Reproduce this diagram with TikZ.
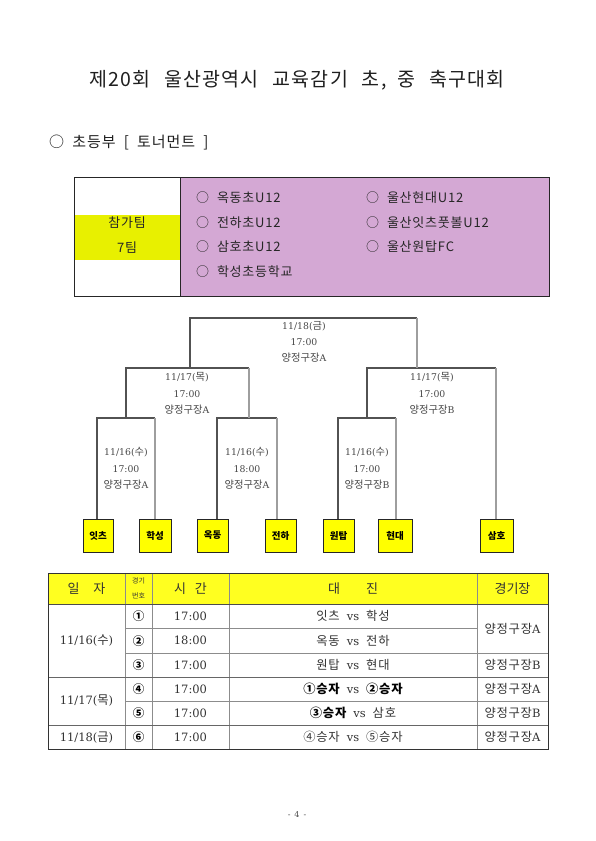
\documentclass[tikz,border=0pt]{standalone}
\usepackage{fontspec}
\setmainfont{DejaVu Serif}
\newfontfamily\kr{Noto Sans CJK KR}
\newfontfamily\krw{Noto Sans CJK KR}[LetterSpace=6]
\definecolor{purp}{HTML}{D4A8D4}
\definecolor{ylw}{HTML}{E8F000}
\definecolor{hdr}{HTML}{FFFF20}
\definecolor{tbox}{HTML}{FFFF00}
\begin{document}
\begin{tikzpicture}[x=1pt,y=-1pt,
  dk/.style={draw=black!68, line width=1.3pt},
  gr/.style={draw=black!38, line width=1.3pt},
  lbl/.style={text=black!72, font=\fontsize{9.3}{16.3}\selectfont, align=center, inner sep=0},
  team/.style={draw=black!85, fill=tbox, line width=0.8pt, minimum height=33pt, inner sep=0,
     font=\kr\bfseries\fontsize{9.5}{10}\selectfont},
  item/.style={anchor=west, inner sep=0, font=\krw\fontsize{13}{15}\selectfont, text=black!85},
  tin/.style={draw=black!45, line width=0.5pt},
  tcell/.style={text=black!80, font=\fontsize{11.5}{13}\selectfont, inner sep=0},
  thead/.style={text=black!80, font=\kr\fontsize{13}{15}\selectfont, inner sep=0}
]
\useasboundingbox (0,0) rectangle (595,841);
\fill[white] (0,0) rectangle (595,841);

% title
\node[inner sep=0, font=\krw\fontsize{19.5}{22}\selectfont, text=black!88] (title) at (297,80)
  {제20회\hspace{14pt}울산광역시\hspace{14pt}교육감기\hspace{14pt}초,\hspace{11pt}중\hspace{14pt}축구대회};
\node[anchor=west, inner sep=0, font=\krw\fontsize{15}{17}\selectfont, text=black!88] (sect) at (49,143)
  {○\hspace{0.55em}초등부\hspace{0.55em}[\hspace{0.55em}토너먼트\hspace{0.55em}]};

% participants box
\fill[purp] (180,177) rectangle (549,296);
\fill[ylw] (75,215) rectangle (180,260);
\draw[black!85, line width=1pt] (74,177) rectangle (549,296);
\draw[black!85, line width=0.8pt] (180,177) -- (180,296);
\node[inner sep=0, font=\krw\fontsize{13}{15}\selectfont, text=black!85] (pt1) at (127,223) {참가팀};
\node[inner sep=0, font=\krw\fontsize{13}{15}\selectfont, text=black!85] (pt2) at (127,248) {7팀};
\node[item] (i1) at (196,198) {○\hspace{0.6em}옥동초U12};
\node[item] (i2) at (196,223) {○\hspace{0.6em}전하초U12};
\node[item] (i3) at (196,247) {○\hspace{0.6em}삼호초U12};
\node[item] (i4) at (196,272) {○\hspace{0.6em}학성초등학교};
\node[item] (i5) at (366,198) {○\hspace{0.6em}울산현대U12};
\node[item] (i6) at (366,223) {○\hspace{0.6em}울산잇츠풋볼U12};
\node[item] (i7) at (366,247) {○\hspace{0.6em}울산원탑FC};

% team boxes
\node[team, minimum width=30pt] (t1) at (98,535.5) {잇츠};
\node[team, minimum width=32pt] (t2) at (155,535.5) {학성};
\node[team, minimum width=31pt] (t3) at (212.5,535.5) {옥동};
\node[team, minimum width=31pt] (t4) at (280.5,535.5) {전하};
\node[team, minimum width=31pt] (t5) at (338.5,535.5) {원탑};
\node[team, minimum width=34pt] (t6) at (395,535.5) {현대};
\node[team, minimum width=33pt] (t7) at (496.5,535.5) {삼호};

% bracket coordinates
\coordinate (m1l) at (97,418);  \coordinate (m1r) at (155,418);
\coordinate (m2l) at (217,418); \coordinate (m2r) at (277,418);
\coordinate (m3l) at (338,418); \coordinate (m3r) at (396,418);
\coordinate (m4l) at (126,368); \coordinate (m4r) at (249,368);
\coordinate (m5l) at (367,368); \coordinate (m5r) at (496,368);
\coordinate (m6l) at (190,318); \coordinate (m6r) at (417,318);

% round 1
\draw[dk] (t1.north -| m1l) -- (m1l) -- (m1r);
\draw[gr] (m1r) -- (t2.north -| m1r);
\draw[dk] (t3.north -| m2l) -- (m2l) -- (m2r);
\draw[gr] (m2r) -- (t4.north -| m2r);
\draw[dk] (t5.north -| m3l) -- (m3l) -- (m3r);
\draw[gr] (m3r) -- (t6.north -| m3r);
% round 2
\draw[dk] (m4l |- m1l) -- (m4l) -- (m4r);
\draw[gr] (m4r) -- (m4r |- m2r);
\draw[dk] (m5l |- m3l) -- (m5l) -- (m5r);
\draw[gr] (m5r) -- (t7.north -| m5r);
% final
\draw[dk] (m6l |- m4l) -- (m6l) -- (m6r);
\draw[gr] (m6r) -- (m6r |- m5r);

% bracket labels
\newcommand\kl{\kr\fontsize{10.3}{12}\selectfont}
\node[lbl] (L6) at (304,342) {11/18({\kl 금})\\17:00\\{\kl 양정구장}A};
\node[lbl] (L4) at (187,393.5) {11/17({\kl 목})\\17:00\\{\kl 양정구장}A};
\node[lbl] (L5) at (432,393.5) {11/17({\kl 목})\\17:00\\{\kl 양정구장}B};
\node[lbl] (L1) at (126,468.5) {11/16({\kl 수})\\17:00\\{\kl 양정구장}A};
\node[lbl] (L2) at (247,468.5) {11/16({\kl 수})\\18:00\\{\kl 양정구장}A};
\node[lbl] (L3) at (367,468.5) {11/16({\kl 수})\\17:00\\{\kl 양정구장}B};

% table
\fill[hdr] (48,573) rectangle (548,604);
\draw[tin] (125,573) -- (125,749.5);
\draw[tin] (152,573) -- (152,749.5);
\draw[tin] (229,573) -- (229,749.5);
\draw[tin] (477,573) -- (477,749.5);
\draw[black!70, line width=0.8pt] (48,604) -- (548,604);
\draw[tin] (125,628.5) -- (477,628.5);
\draw[tin] (125,653) -- (548,653);
\draw[black!60, line width=0.8pt] (48,677) -- (548,677);
\draw[tin] (125,701) -- (548,701);
\draw[black!60, line width=0.8pt] (48,725) -- (548,725);
\draw[black!80, line width=1pt] (48,573) rectangle (548,749.5);

\node[thead] (h1) at (86.5,588.5) {일\hspace{14pt}자};
\node[thead, font=\kr\fontsize{7}{15.5}\selectfont, align=center] (h2) at (138.5,588.5) {경기\\번호};
\node[thead] (h3) at (190.5,588.5) {시\hspace{9pt}간};
\node[thead] (h4) at (353,588.5) {대\hspace{26pt}진};
\node[thead] (h5) at (512.5,588.5) {경기장};

\newcommand\kt{\krw\fontsize{12.3}{14}\selectfont}
\newcommand\ktb{\krw\bfseries\fontsize{12.3}{14}\selectfont\color{black}}
\node[tcell] (d1) at (86.5,640.75) {11/16({\kt 수})};
\node[tcell] (d2) at (86.5,701) {11/17({\kt 목})};
\node[tcell] (d3) at (86.5,737.25) {11/18({\kt 금})};

\tikzset{cn/.style={tcell, font=\kr\bfseries\fontsize{11.5}{13}\selectfont, text=black}}
\node[cn] (n1) at (138.5,616.25) {①};
\node[cn] (n2) at (138.5,640.75) {②};
\node[cn] (n3) at (138.5,665) {③};
\node[cn] (n4) at (138.5,689) {④};
\node[cn] (n5) at (138.5,713) {⑤};
\node[cn] (n6) at (138.5,737.25) {⑥};

\node[tcell] (s1) at (190.5,616.25) {17:00};
\node[tcell] (s2) at (190.5,640.75) {18:00};
\node[tcell] (s3) at (190.5,665) {17:00};
\node[tcell] (s4) at (190.5,689) {17:00};
\node[tcell] (s5) at (190.5,713) {17:00};
\node[tcell] (s6) at (190.5,737.25) {17:00};

\node[tcell] (v1) at (353,616.25) {{\kt 잇츠}\hspace{7pt}vs\hspace{7pt}{\kt 학성}};
\node[tcell] (v2) at (353,640.75) {{\kt 옥동}\hspace{7pt}vs\hspace{7pt}{\kt 전하}};
\node[tcell] (v3) at (353,665) {{\kt 원탑}\hspace{7pt}vs\hspace{7pt}{\kt 현대}};
\node[tcell] (v4) at (353,689) {{\ktb ①승자}\hspace{7pt}vs\hspace{7pt}{\ktb ②승자}};
\node[tcell] (v5) at (353,713) {{\ktb ③승자}\hspace{7pt}vs\hspace{7pt}{\kt 삼호}};
\node[tcell] (v6) at (353,737.25) {{\kt ④승자}\hspace{7pt}vs\hspace{7pt}{\kt ⑤승자}};

\node[tcell] (g1) at (512.5,628.5) {{\kt 양정구장}A};
\node[tcell] (g2) at (512.5,665) {{\kt 양정구장}B};
\node[tcell] (g3) at (512.5,689) {{\kt 양정구장}A};
\node[tcell] (g4) at (512.5,713) {{\kt 양정구장}B};
\node[tcell] (g5) at (512.5,737.25) {{\kt 양정구장}A};

\node[inner sep=0, font=\fontsize{8}{9}\selectfont, text=black!70] (pg) at (297,815) {-\hspace{4pt}4\hspace{4pt}-};
\end{tikzpicture}
\end{document}
